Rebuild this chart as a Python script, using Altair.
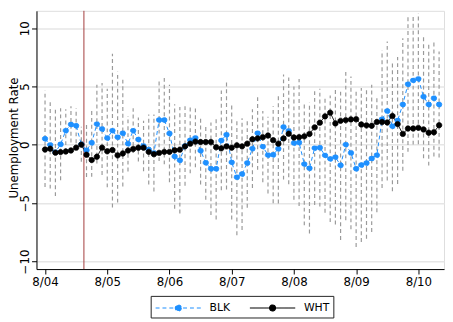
import json
import altair as alt
import pandas as pd

# ---- data ----
month_index = list(range(77))

blk = [0.52, 0.0, -0.63, 0.05, 1.22, 1.75, 1.64, 0.05, -0.46, 0.18,
       1.78, 1.36, 0.58, 1.22, 0.66, 1.0, 0.1, 1.22, 0.46, -0.1,
       -0.4, -0.7, 2.13, 2.13, 0.97, -1.0, -1.32, -0.1, 0.4, 0.6,
       -0.5, -1.53, -2.05, -2.05, 0.38, 0.87, -1.5, -2.77, -2.5, -1.55,
       -0.32, 1.0, -0.15, -0.88, -0.85, -0.33, 1.53, 1.2, 0.15, 0.2,
       -1.65, -2.0, -0.28, -0.24, -0.9, -1.2, -1.05, -1.75, 0.02, -0.69,
       -2.05, -1.73, -1.56, -1.16, -0.88, 2.2, 2.9, 1.6, 2.09, 3.46,
       5.2, 5.53, 5.66, 4.13, 3.46, 4.0, 3.46]

wht = [-0.4, -0.33, -0.67, -0.62, -0.57, -0.48, -0.24, 0.02, -0.85, -1.3,
       -1.02, -0.24, -0.55, -0.44, -0.9, -0.74, -0.49, -0.36, -0.25, -0.24,
       -0.6, -0.8, -0.69, -0.6, -0.6, -0.46, -0.41, -0.13, 0.1, 0.28,
       0.24, 0.24, 0.24, -0.2, -0.3, -0.13, -0.24, -0.04, -0.13, 0.1,
       0.48, 0.56, 0.66, 0.8, 0.4, 0.1, 0.55, 0.95, 0.63, 0.66,
       0.73, 0.94, 1.5, 1.9, 2.44, 2.76, 1.84, 2.06, 2.12, 2.18,
       2.2, 1.74, 1.67, 1.64, 1.96, 1.96, 1.92, 2.48, 1.78, 0.94,
       1.4, 1.4, 1.46, 1.32, 1.04, 1.08, 1.68]

# half-width of the dashed confidence bars around BLK
blk_ci_half = [4.13, 3.75, 3.76, 3.08, 1.83, 1.55, 1.5, 1.5, 2.3, 2.92,
               3.37, 3.94, 4.22, 6.58, 5.61, 4.57, 2.38, 1.91, 1.88, 2.16,
               3.0, 3.3, 3.52, 3.8, 4.18, 4.47, 4.56, 3.4, 2.84, 2.53,
               2.9, 3.17, 3.97, 4.34, 4.27, 4.7, 4.9, 4.97, 4.79, 3.84,
               3.37, 3.14, 3.05, 3.28, 4.15, 4.69, 4.51, 4.57, 4.85, 5.45,
               5.25, 5.6, 4.87, 5.05, 4.92, 5.42, 5.78, 6.4, 6.48, 6.54,
               6.7, 6.6, 6.48, 6.31, 4.9, 5.9, 5.95, 5.57, 5.44, 5.67,
               5.8, 5.51, 5.61, 5.27, 5.24, 5.0, 4.54]

series_names = ["BLK", "WHT"]
series_colors = ["#1e90ff", "#000000"]
series_dash = [[4, 3], [1, 0]]
x_tick_pos = [0, 12, 24, 36, 48, 60, 72]
x_tick_labels = ["8/04", "8/05", "8/06", "8/07", "8/08", "8/09", "8/10"]
y_ticks = [-10, -5, 0, 5, 10]
event_month = [7.5]
y_title = "Unemployment Rate"

# ---- tables ----
long_df = pd.DataFrame({
    "t": month_index * 2,
    "series": [series_names[0]] * len(blk) + [series_names[1]] * len(wht),
    "value": blk + wht,
})
ci_df = pd.DataFrame({
    "t": month_index,
    "lo": [b - h for b, h in zip(blk, blk_ci_half)],
    "hi": [b + h for b, h in zip(blk, blk_ci_half)],
})
event_df = pd.DataFrame({"t": event_month})

FONT = "DejaVu Sans"
x_scale = alt.Scale(domain=[-1.65, 76.95], nice=False, zero=False)
y_scale = alt.Scale(domain=[-10.65, 11.49], nice=False, zero=False)

label_expr = f"{json.dumps(x_tick_labels)}[indexof({json.dumps(x_tick_pos)}, datum.value)]"

x_axis = alt.Axis(values=x_tick_pos, labelExpr=label_expr, title=None, grid=False,
                  domainColor="#000000", domainWidth=1, tickColor="#000000", tickSize=5,
                  labelPadding=3, labelFont=FONT, labelFontSize=12, labelColor="#000000")
y_axis = alt.Axis(values=y_ticks, title=y_title, grid=True, gridColor="#e6e6e6", gridWidth=1.5,
                  domainColor="#000000", domainWidth=1, tickColor="#000000", tickSize=5,
                  labelAngle=270, labelAlign="center", labelBaseline="alphabetic",
                  labelPadding=3.5, labelFont=FONT, labelFontSize=12, labelColor="#000000",
                  titleFont=FONT, titleFontSize=12, titleFontWeight="normal", titleColor="#000000",
                  titleAngle=270, titleAlign="center", titleBaseline="alphabetic",
                  titleX=-19, titleY=129)

LEG_PATH = "M-1,0L5.6,0M2.73,0A0.43,0.43,0,1,1,1.87,0A0.43,0.43,0,1,1,2.73,0Z"


def make_legend():
    return alt.Legend(title=None, orient="none", legendX=116.3, legendY=290.3,
                      direction="horizontal", symbolType=LEG_PATH, symbolSize=196,
                      symbolStrokeWidth=1.2, symbolOpacity=1,
                      labelFont=FONT, labelFontSize=11, labelColor="#000000",
                      labelOffset=40, columnPadding=17, padding=4,
                      strokeColor="#222222", cornerRadius=0)


stroke_enc = alt.Stroke("series:N", scale=alt.Scale(domain=series_names, range=series_colors),
                        legend=make_legend())
fill_enc = alt.Fill("series:N", scale=alt.Scale(domain=series_names, range=series_colors),
                    legend=make_legend())
dash_enc = alt.StrokeDash("series:N", scale=alt.Scale(domain=series_names, range=series_dash),
                          legend=make_legend())

bars = alt.Chart(ci_df).mark_rule(color="#9a9a9a", strokeWidth=1.2, strokeDash=[4, 3]).encode(
    x=alt.X("t:Q", scale=x_scale, axis=x_axis),
    y=alt.Y("lo:Q", scale=y_scale, axis=y_axis),
    y2="hi:Q",
)

vline = alt.Chart(event_df).mark_rule(color="#a23b3b", strokeWidth=1).encode(
    x=alt.X("t:Q", scale=x_scale, axis=x_axis),
)

lines = alt.Chart(long_df).mark_line(strokeWidth=1).encode(
    x=alt.X("t:Q", scale=x_scale, axis=x_axis),
    y=alt.Y("value:Q", scale=y_scale, axis=y_axis),
    stroke=stroke_enc,
    strokeDash=dash_enc,
    detail="series:N",
)

points = alt.Chart(long_df).mark_point(size=30, strokeWidth=0.8, opacity=1).encode(
    x=alt.X("t:Q", scale=x_scale, axis=x_axis),
    y=alt.Y("value:Q", scale=y_scale, axis=y_axis),
    fill=fill_enc,
    stroke=stroke_enc,
    strokeDash=dash_enc,
)

chart = alt.layer(bars, vline, lines, points).properties(
    width=415, height=263,
    padding={"left": 29, "top": 0, "right": 1, "bottom": 50},
    autosize=alt.AutoSizeParams(type="none"),
).configure_view(stroke=None).configure(background="white")

chart.save("out.html", embed_options={"renderer": "svg", "actions": False})
